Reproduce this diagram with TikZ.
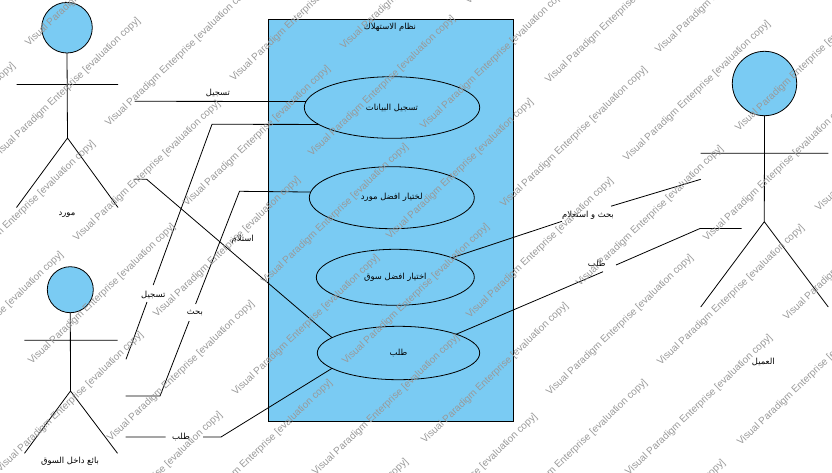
\documentclass[tikz,border=0pt]{standalone}
\usepackage{fontspec}
\usetikzlibrary{shapes.geometric}
\setmainfont{Liberation Sans}
\newfontfamily\arabicfont[Script=Arabic]{DejaVu Sans}
\TeXXeTstate=1
\definecolor{skyfill}{HTML}{7ACBF3}
\tikzset{
  actorhead/.style={circle,draw=black,fill=skyfill,line width=0.8pt,inner sep=0pt,outer sep=0pt},
  usecase/.style={ellipse,draw=black,fill=skyfill,line width=0.8pt,inner sep=0pt,outer sep=0pt,font=\arabicfont\fontsize{8.4}{10}\selectfont},
  lbl/.style={inner sep=0pt,outer sep=0pt,font=\arabicfont\fontsize{8.4}{10}\selectfont},
  wire/.style={line width=0.8pt,draw=black},
  wm/.style={anchor=west,rotate=43.7,inner sep=0pt,text=black!40,font=\fontsize{10}{12}\selectfont}
}
\begin{document}
\begin{tikzpicture}[x=1pt,y=-1pt]
\useasboundingbox (0,0) rectangle (832,472);
% system
\node[draw=black,fill=skyfill,line width=0.8pt,inner sep=0pt,outer sep=0pt,minimum width=244.6pt,minimum height=401.7pt] (sys) at (391,220.2) {};
\node[lbl] (systitle) at (390,27) {\beginR نظام الاستهلاك\endR};
% actors
\node[actorhead,minimum size=50.6pt] (h1) at (67,27.7) {};
\coordinate (c1) at (67.5,138);
\coordinate (al1) at (16.5,84.5);\coordinate (ar1) at (118,84.5);
\coordinate (ll1) at (16.5,207.5);\coordinate (lr1) at (118,207.5);
\draw[wire] (h1.south) -- (c1) (al1) -- (ar1) (ll1) -- (c1) -- (lr1);
\node[lbl] (t1) at (67,215) {\beginR مورد\endR};
\node[actorhead,minimum size=46pt] (h2) at (70.3,289.7) {};
\coordinate (c2) at (70.5,391);
\coordinate (al2) at (24.3,340.3);\coordinate (ar2) at (117.5,340.3);
\coordinate (ll2) at (24.5,453.3);\coordinate (lr2) at (117.5,453.3);
\draw[wire] (h2.south) -- (c2) (al2) -- (ar2) (ll2) -- (c2) -- (lr2);
\node[lbl] (t2) at (70,461) {\beginR بائع داخل السوق\endR};
\node[actorhead,minimum size=64.4pt] (h3) at (764.5,83.5) {};
\coordinate (c3) at (764.3,221.7);
\coordinate (al3) at (700.7,153.3);\coordinate (ar3) at (828.3,153.3);
\coordinate (ll3) at (700.7,307);\coordinate (lr3) at (828.3,307);
\draw[wire] (h3.south) -- (c3) (al3) -- (ar3) (ll3) -- (c3) -- (lr3);
\node[lbl] (t3) at (763.3,361.7) {\beginR العميل\endR};
% use cases
\node[usecase,minimum width=175.4pt,minimum height=61.6pt] (e1) at (392,107.5) {\beginR تسجيل البيانات\endR};
\node[usecase,minimum width=165pt,minimum height=62pt] (e2) at (391.8,197.7) {\beginR لختيار افضل مورد\endR};
\node[usecase,minimum width=158pt,minimum height=56pt] (e3) at (395.3,277.3) {\beginR اختيار افضل سوق\endR};
\node[usecase,minimum width=162.4pt,minimum height=53.4pt] (e4) at (398.5,353) {\beginR طلب\endR};
% connectors
\coordinate (s1) at (134.5,101.3);
\draw[wire] (s1) -- (e1.176);
\node[lbl] (l1) at (218,92.5) {\beginR تسجيل\endR};
\coordinate (b2) at (212,124.3);
\coordinate (g2a) at (153.2,285);\coordinate (g2b) at (147,302);\coordinate (s2) at (126,359.3);
\draw[wire] (e1.193) -- (b2) -- (g2a) (g2b) -- (s2);
\node[lbl] (l2) at (153.3,295) {\beginR تسجيل\endR};
\coordinate (b3) at (239.5,191.3);
\coordinate (g3a) at (195.6,304);\coordinate (g3b) at (189.2,321);
\coordinate (k3) at (160,396);\coordinate (s3) at (125.5,396);
\draw[wire] (e2.176) -- (b3) -- (g3a) (g3b) -- (k3) -- (s3);
\node[lbl] (l3) at (195,313) {\beginR بحث\endR};
\coordinate (s4) at (125.5,437);\coordinate (g4a) at (165.7,437);\coordinate (g4b) at (203,437);\coordinate (k4) at (221,437);
\draw[wire] (s4) -- (g4a) (g4b) -- (k4) -- (e4.193);
\node[lbl] (l4) at (181,437) {\beginR طلب\endR};
\coordinate (s5) at (133.5,179.3);\coordinate (k5) at (146.7,179.3);
\draw[wire] (s5) -- (k5) -- (e4.167);
\node[lbl] (l5) at (242.7,239) {\beginR استلام\endR};
\coordinate (g6a) at (562,221.3);\coordinate (g6b) at (611,206.2);\coordinate (s6) at (700.7,179.3);
\draw[wire] (e3.19) -- (g6a) (g6b) -- (s6);
\node[lbl] (l6) at (588,215) {\beginR بحث و استعلام\endR};
\coordinate (g7a) at (603,271.7);\coordinate (g7b) at (616,265);\coordinate (k7) at (700,228.5);\coordinate (s7) at (741.7,228.5);
\draw[wire] (e4.18) -- (g7a) (g7b) -- (k7) -- (s7);
\node[lbl] (l7) at (596.7,264.3) {\beginR طلب\endR};
% watermark
\foreach \x/\y [count=\i] in {-130/202,-82/391,-50/280,-5/157,-2/471,27/45,30/363,75/240,77/551,107/125,109/440,155/316,185/205,187/519,232/80,234/394,263/283,263/598,310/155,342/48,344/363,388/238,392/553,422/128,423/442,468/317,502/206,502/519,548/394,578/285,580/599,625/160,627/474,657/52,659/364,737/130,739/444,785/319,817/210,547/82,705/240,314/474,467/3}
  \node[wm] (wm\i) at (\x,\y) {Visual Paradigm Enterprise [evaluation copy]};
\end{tikzpicture}
\end{document}
